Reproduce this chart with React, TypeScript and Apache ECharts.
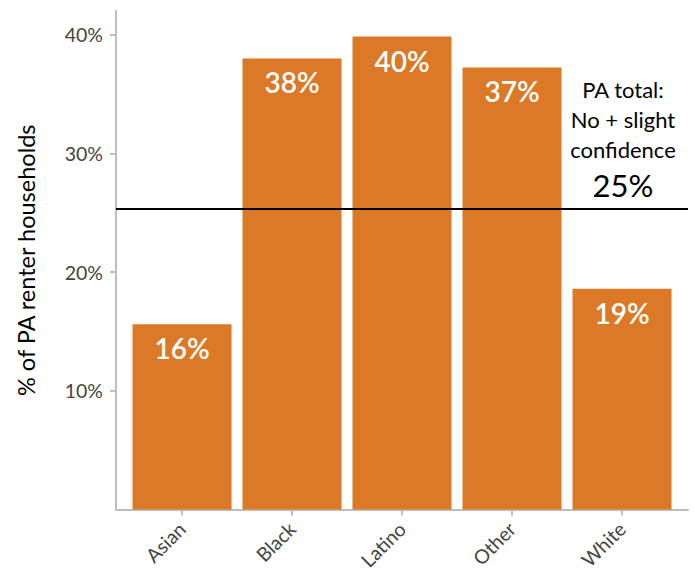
import React, { useEffect, useRef } from "react";
import * as echarts from "echarts";

const categories = ["Asian", "Black", "Latino", "Other", "White"];
const shares = [15.6, 38.0, 39.85, 37.25, 18.6];
const paTotal = 25.3;
const yTicks = [10, 20, 30, 40];
const annotationLines = ["PA total:", "No + slight", "confidence"];
const annotationValue = "25%";

export default function App() {
  const ref = useRef<HTMLDivElement>(null);
  useEffect(() => {
    if (!ref.current) return;
    const chart = echarts.init(ref.current, null, { renderer: "svg" });
    const font = "Lato, 'Noto Sans', sans-serif";
    chart.setOption({
      animation: false,
      backgroundColor: "#ffffff",
      textStyle: { fontFamily: font },
      grid: {
        left: 116,
        right: 6,
        top: 11,
        bottom: 65.5,
        containLabel: false,
        outerBoundsMode: "none",
      },
      xAxis: {
        type: "value",
        min: -0.6,
        max: 4.6,
        splitLine: { show: false },
        axisLine: { show: true, onZero: false, lineStyle: { color: "#bdbdbd", width: 2 } },
        axisTick: {
          show: true,
          length: 6,
          customValues: categories.map((_, i) => i),
          lineStyle: { color: "#bdbdbd", width: 2 },
        },
        axisLabel: {
          customValues: categories.map((_, i) => i),
          formatter: (v: number) => categories[Math.round(v)] ?? "",
          rotate: 45,
          margin: 16,
          padding: [15, 0, 0, 0],
          color: "#444444",
          fontSize: 19.5,
          fontFamily: font,
        },
      },
      yAxis: {
        type: "value",
        min: 0,
        max: 42,
        splitLine: { show: false },
        axisLine: { show: true, onZero: false, lineStyle: { color: "#bdbdbd", width: 2 } },
        axisTick: {
          show: true,
          length: 6,
          customValues: yTicks,
          lineStyle: { color: "#bdbdbd", width: 2 },
        },
        axisLabel: {
          customValues: yTicks,
          formatter: (v: number) => `${v}%`,
          margin: 13,
          color: "#444444",
          fontSize: 19.5,
          fontFamily: font,
        },
        name: "% of PA renter households",
        nameLocation: "middle",
        nameGap: 78,
        nameTextStyle: { color: "#000000", fontSize: 23.5, fontFamily: font },
      },
      series: [
        {
          type: "bar",
          data: shares.map((v, i) => [i, v]),
          barWidth: 99,
          itemStyle: { color: "#db7926" },
          label: {
            show: true,
            position: "insideTop",
            distance: 10,
            formatter: (p: any) => `${Math.round(p.value[1])}%`,
            color: "#ffffff",
            fontSize: 28,
            fontWeight: 600,
            fontFamily: font,
          },
          markLine: {
            silent: true,
            symbol: "none",
            label: { show: false },
            lineStyle: { color: "#000000", width: 2, type: "solid" },
            data: [{ yAxis: paTotal }],
          },
        },
      ],
      graphic: [
        {
          type: "text",
          x: 623,
          y: 74,
          style: {
            text:
              annotationLines.map((l) => `{a|${l}}`).join("\n") +
              `\n{b|${annotationValue}}`,
            align: "center",
            verticalAlign: "top",
            fill: "#000000",
            fontFamily: font,
            rich: {
              a: { fontSize: 22, lineHeight: 30, fontFamily: font, fill: "#000000" },
              b: { fontSize: 31, lineHeight: 42, fontFamily: font, fill: "#000000" },
            },
          },
        },
      ],
    });
    return () => chart.dispose();
  }, []);
  return (
    <div
      ref={ref}
      style={{ position: "fixed", left: 0, top: 0, width: 694, height: 575 }}
    />
  );
}
